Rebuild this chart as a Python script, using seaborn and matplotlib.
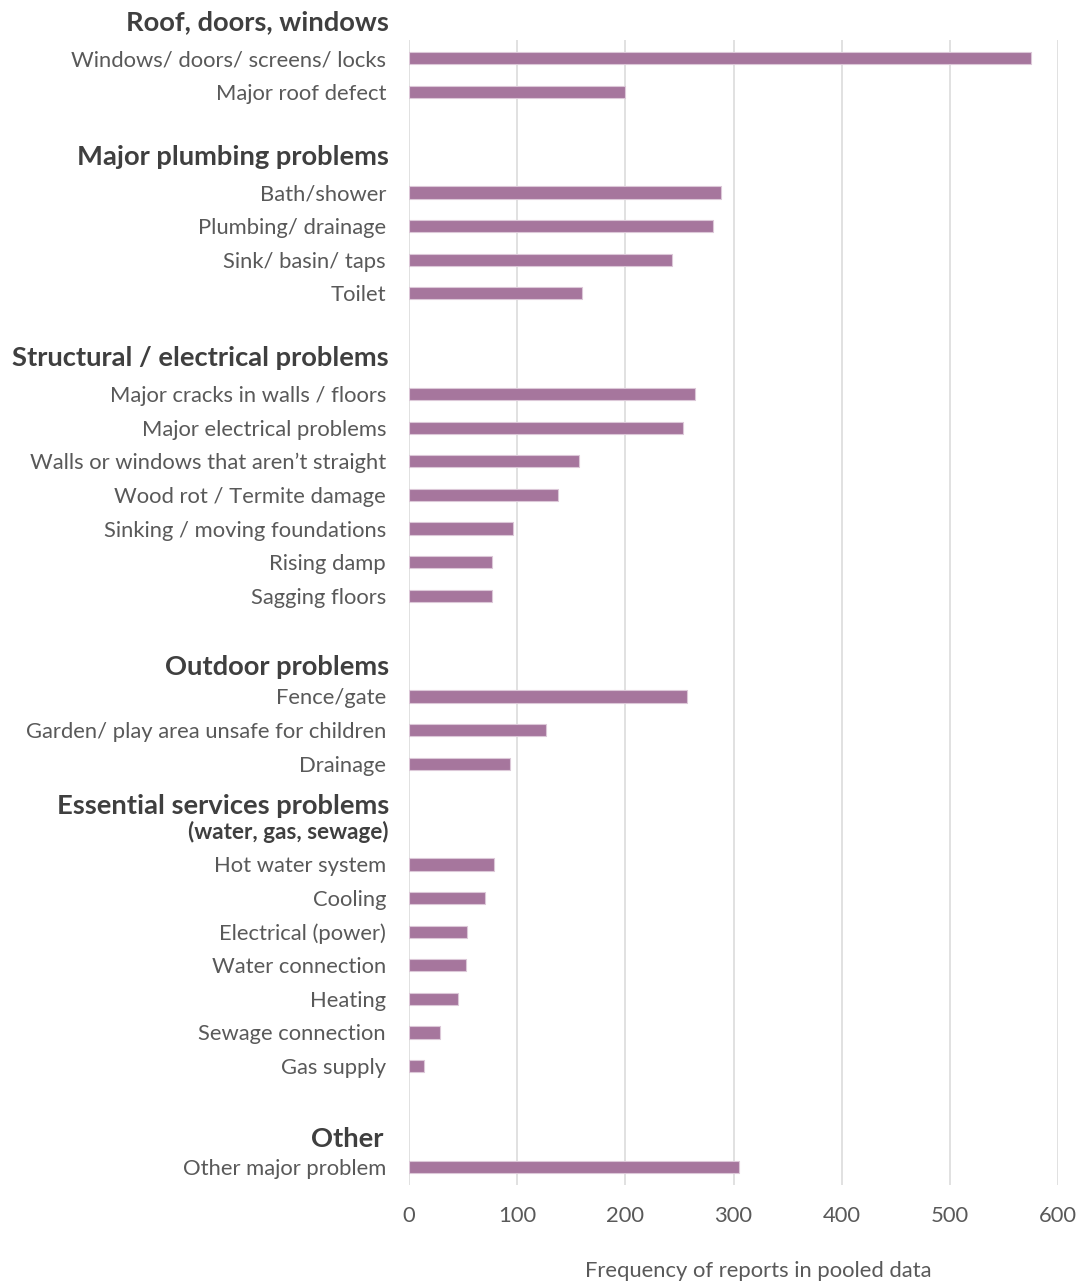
import matplotlib
matplotlib.use("Agg")
import matplotlib.pyplot as plt
import matplotlib.transforms as mtransforms
import pandas as pd
import seaborn as sns

# Problem items, grouped; each group gets a heading row above its items
groups = [
    "Roof, doors, windows",
    "Major plumbing problems",
    "Structural / electrical problems",
    "Outdoor problems",
    "Essential services problems",
    "Other",
]
group_subtitles = ["", "", "", "", "(water, gas, sewage)", ""]

roof_items = ["Windows/ doors/ screens/ locks", "Major roof defect"]
roof_values = [575, 200]

plumbing_items = ["Bath/shower", "Plumbing/ drainage", "Sink/ basin/ taps", "Toilet"]
plumbing_values = [288, 281, 243, 160]

structural_items = [
    "Major cracks in walls / floors",
    "Major electrical problems",
    "Walls or windows that aren\u2019t straight",
    "Wood rot / Termite damage",
    "Sinking / moving foundations",
    "Rising damp",
    "Sagging floors",
]
structural_values = [264, 253, 157, 138, 96, 77, 77]

outdoor_items = ["Fence/gate", "Garden/ play area unsafe for children", "Drainage"]
outdoor_values = [257, 127, 93]

services_items = [
    "Hot water system",
    "Cooling",
    "Electrical (power)",
    "Water connection",
    "Heating",
    "Sewage connection",
    "Gas supply",
]
services_values = [79, 70, 54, 53, 45, 29, 14]

other_items = ["Other major problem"]
other_values = [305]

x_ticks = [0, 100, 200, 300, 400, 500, 600]
x_label = "Frequency of reports in pooled data"

# Row slots: items in order, with blank rows and heading rows between groups
item_lists = [roof_items, plumbing_items, structural_items, outdoor_items,
              services_items, other_items]
value_lists = [roof_values, plumbing_values, structural_values, outdoor_values,
               services_values, other_values]
group_start_slots = [0, 4, 10, 19, 24, 33]
# vertical placement of each heading (in row units) and of the subtitle
heading_slots = [-1.07, 2.95, 8.93, 18.13, 22.25, 32.17]
subtitle_slot = 23.04
# right edge of each heading, in pixels left of the axis
heading_gap_px = [20, 20, 20, 20, 20, 26]

rows = []
for items, vals, start in zip(item_lists, value_lists, group_start_slots):
    for i, (lab, v) in enumerate(zip(items, vals)):
        rows.append({"label": lab, "value": v, "slot": start + i})
df = pd.DataFrame(rows)

sns.set_theme(style="white")
plt.rcParams["font.family"] = ["Lato", "DejaVu Sans"]

bar_color = "#A6769D"
label_color = "#595959"
head_color = "#3F3F3F"
grid_color = "#D9D9D9"

fig = plt.figure(figsize=(10.86, 12.84), dpi=100)
ax = fig.add_axes([409 / 1086, 1 - 1185 / 1284, 649 / 1086, (1185 - 40) / 1284])

sns.barplot(data=df, x="value", y="slot", orient="h", native_scale=True,
            color=bar_color, saturation=1, width=0.36, edgecolor="#DCC8D8",
            linewidth=0.8, ax=ax, zorder=3)

ax.set_xlim(0, 600)
ax.set_ylim(33.54, -0.54)
ax.set_xticks(x_ticks)
ax.set_xticklabels([str(t) for t in x_ticks], fontsize=15.8, color=label_color)
ax.tick_params(axis="x", length=0, pad=15)
ax.set_yticks(df["slot"].tolist())
ax.set_yticklabels(df["label"].tolist(), fontsize=15.8, color=label_color)
ax.tick_params(axis="y", length=0, pad=16.5)
ax.set_ylabel("")
ax.set_xlabel("")

for s in ax.spines.values():
    s.set_visible(False)
ax.grid(axis="x", color=grid_color, linewidth=1.1, zorder=0)
ax.grid(axis="y", visible=False)
ax.set_axisbelow(True)

# Group headings, right-aligned just left of the axis
trans = mtransforms.blended_transform_factory(ax.transAxes, ax.transData)
for name, ys, gap in zip(groups, heading_slots, heading_gap_px):
    ax.text(-gap / 649, ys, name, transform=trans, ha="right", va="center",
            fontsize=19.7, fontweight="bold", color=head_color, clip_on=False)
ax.text(-20 / 649, subtitle_slot, group_subtitles[4], transform=trans,
        ha="right", va="center", fontsize=16.2, fontweight="bold",
        color=head_color, clip_on=False)

fig.text(758 / 1086, 1 - 1271 / 1284, x_label, ha="center", va="center",
         fontsize=15.8, color=label_color)

fig.savefig("out.png", dpi=100, facecolor="white")
